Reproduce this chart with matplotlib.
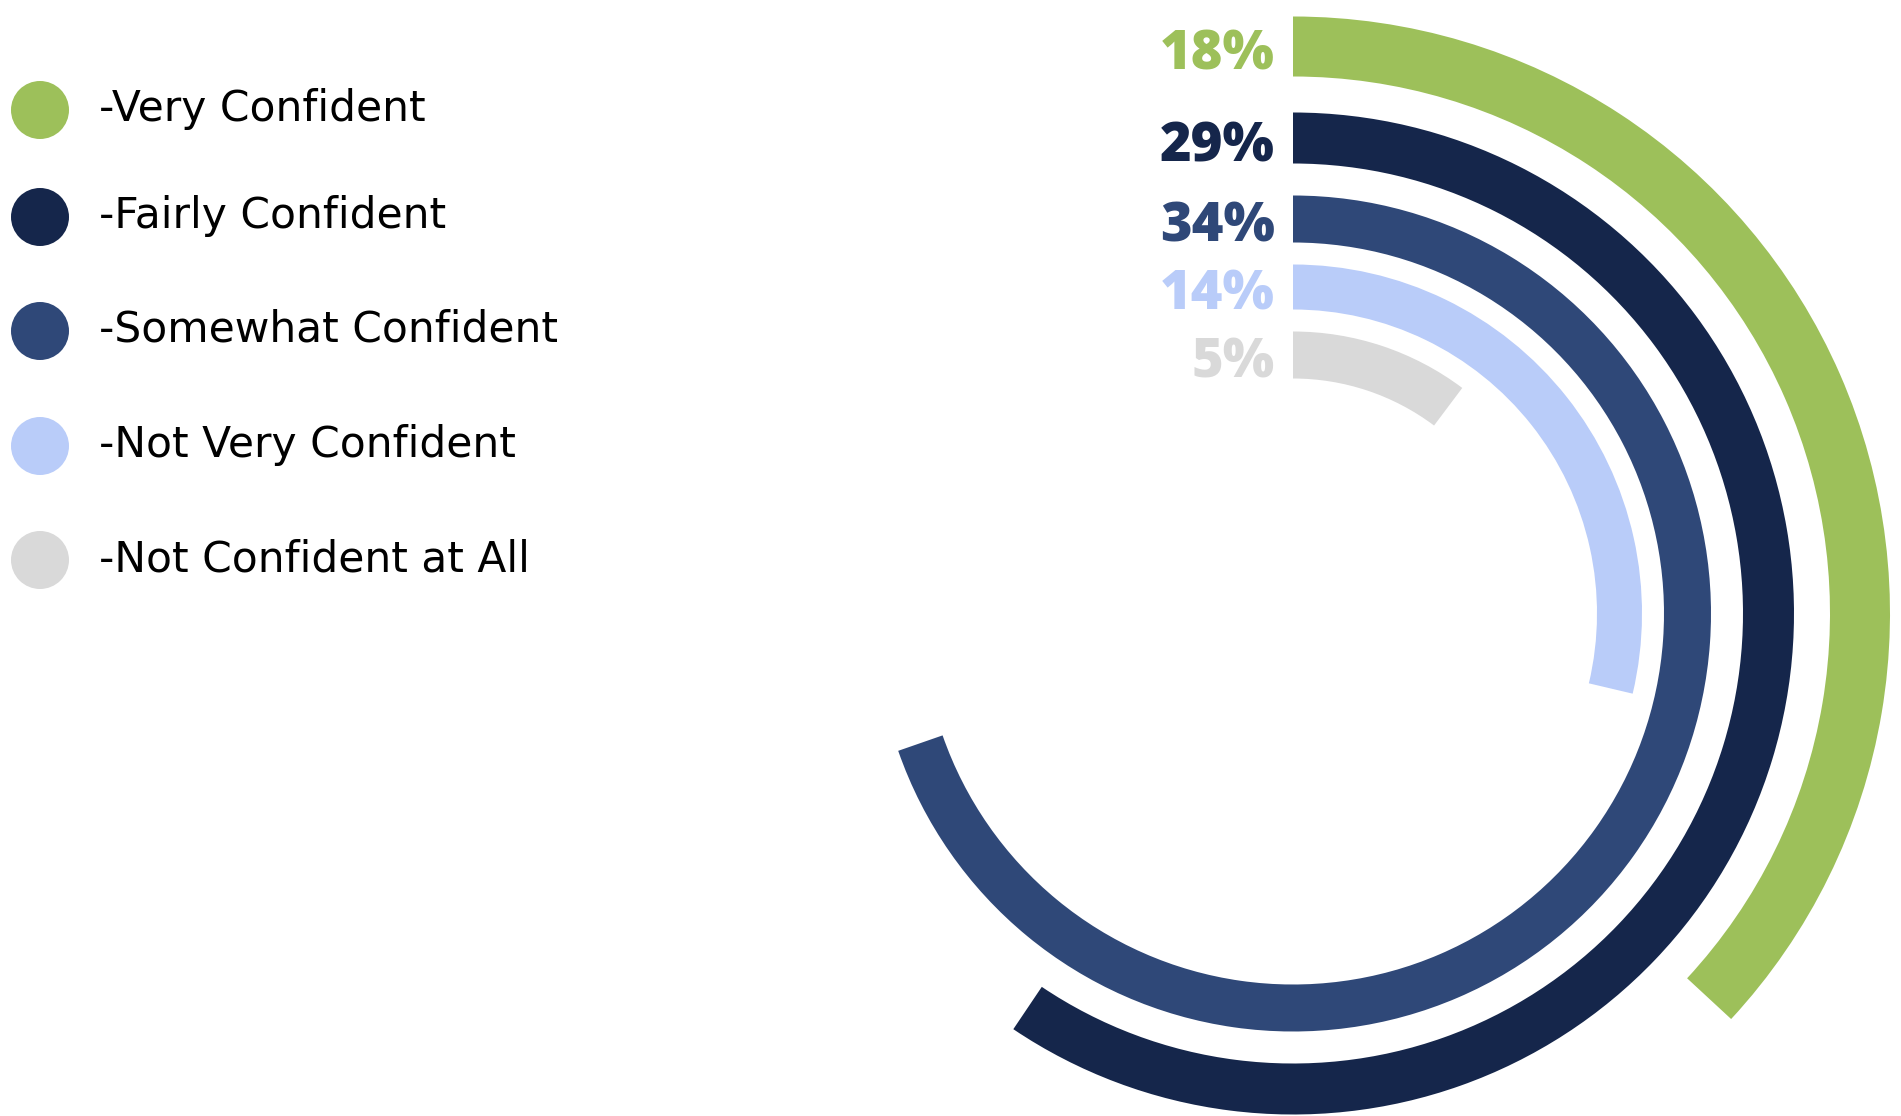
import matplotlib
matplotlib.use('Agg')
import matplotlib.pyplot as plt
from matplotlib.patches import Wedge, Circle

# Survey answers, drawn as concentric radial bars (outermost first)
categories = ['Very Confident', 'Fairly Confident', 'Somewhat Confident',
              'Not Very Confident', 'Not Confident at All']
values = [18, 29, 34, 14, 5]
colors = ['#9DC05A', '#15264B', '#2F4878', '#B9CCF9', '#D9D9D9']

# value that would close a full ring
FULL_SCALE = 48.8

# ring geometry in pixels
CENTER = (1293, 613.5)
outer_r = [597, 501, 418, 349, 282]
inner_r = [537, 450, 371, 304, 235]

legend_y = [110, 217, 331, 446, 560]

fig = plt.figure(figsize=(19.01, 11.16), dpi=100)
ax = fig.add_axes([0, 0, 1, 1])
ax.set_xlim(0, 1901)
ax.set_ylim(1116, 0)
ax.set_aspect('equal')
ax.axis('off')

for val, col, ro, ri in zip(values, colors, outer_r, inner_r):
    sweep = val / FULL_SCALE * 360
    # y axis points down, so increasing theta runs clockwise from the top
    ax.add_patch(Wedge(CENTER, ro, -90, -90 + sweep, width=ro - ri,
                       facecolor=col, edgecolor='none'))
    mid = CENTER[1] - (ro + ri) / 2
    ax.text(1275, mid + 23, f'{val}%', ha='right', va='baseline',
            fontsize=39, fontweight='heavy', color=col, family='Open Sans')

# legend on the left
for name, col, y in zip(categories, colors, legend_y):
    ax.add_patch(Circle((40, y), 29, facecolor=col, edgecolor='none'))
    ax.text(99, y + 11, f'-{name}', ha='left', va='baseline',
            fontsize=30.5, color='black', family='DejaVu Sans')

fig.savefig('out.png', dpi=100)
plt.close(fig)
